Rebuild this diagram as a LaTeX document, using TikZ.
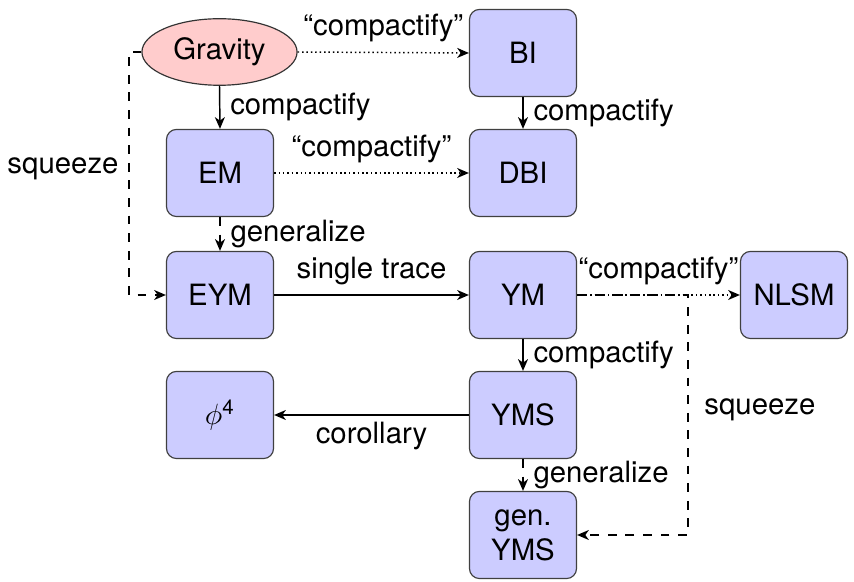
\documentclass[tikz,border=0pt]{standalone}
\usepackage{fontspec}
\setmainfont{TeX Gyre Heros}
\usetikzlibrary{shapes.geometric,arrows.meta}
\begin{document}
\begin{tikzpicture}[x=0.341pt,y=-0.341pt,
  box/.style={draw=black!75,fill=blue!20,rounded corners=3.4pt,minimum width=36.5pt,minimum height=29.7pt,align=center,inner sep=1pt},
  arr/.style={-{Stealth[length=4pt,width=3.4pt,inset=1.2pt]},line width=0.5pt}]
\useasboundingbox (0,0) rectangle (854,582);
\node[ellipse,draw=black!80,fill=red!20,minimum width=52.9pt,minimum height=21.8pt,inner xsep=2.2pt,inner ysep=3.2pt] (grav) at (219.5,52) {Gravity};
\node[box] (bi) at (523,53) {BI};
\node[box] (em) at (220,173) {EM};
\node[box] (dbi) at (523,173) {DBI};
\node[box] (eym) at (220,295) {EYM};
\node[box] (ym) at (523,295) {YM};
\node[box] (nlsm) at (794,295) {NLSM};
\node[box] (phi) at (220,415) {$\phi^{\hbox{\scriptsize 4}}$};
\node[box] (yms) at (523,415) {YMS};
\node[box] (gyms) at (523,535) {gen.\\YMS};
\coordinate (sqL) at (129,295);
\coordinate (sqR) at (688,535);

\draw[arr,densely dotted] (grav.east) -- node[above] {``compactify''} (bi.west);
\draw[arr] (grav.south) -- node[right] {compactify} (em.north);
\draw[arr] (bi) -- node[right] {compactify} (dbi);
\draw[arr,densely dotted] (em) -- node[above] {``compactify''} (dbi);
\draw[arr,dashed] (em) -- node[right] {generalize} (eym);
\draw[arr,dashed] (grav.west) -| node[pos=0.74,left] {squeeze} (sqL) -- (eym.west);
\draw[arr] (eym) -- node[above] {single trace} (ym);
\draw[arr,densely dotted] (ym) -- node[above] {``compactify''} (nlsm);
\draw[arr] (ym) -- node[right] {compactify} (yms);
\draw[arr] (yms) -- node[below,yshift=1.2pt] {corollary} (phi);
\draw[arr,dashed] (yms) -- node[right] {generalize} (gyms);
\draw[arr,dashed] (ym.east) -| node[pos=0.74,right,xshift=2pt] {squeeze} (sqR) -- (gyms.east);
\end{tikzpicture}
\end{document}
